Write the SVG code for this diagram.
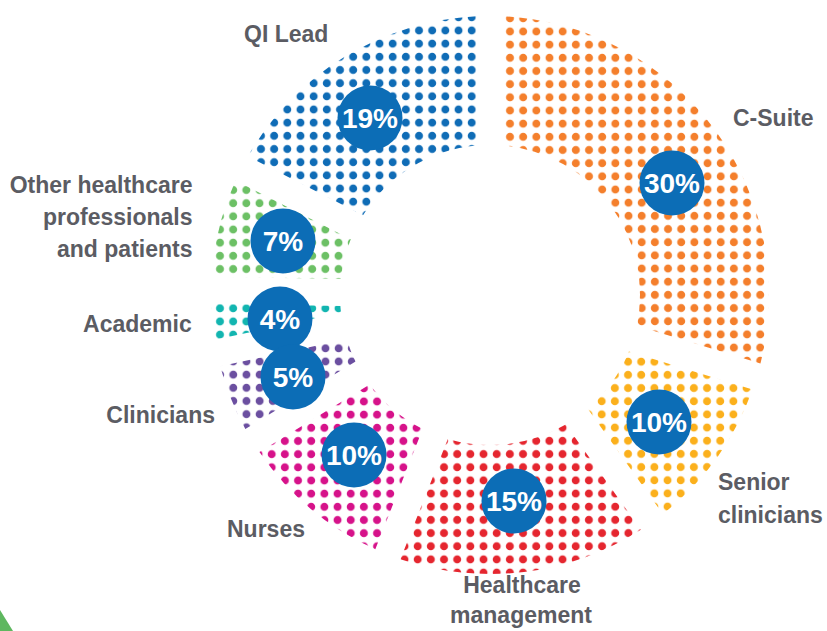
<svg xmlns="http://www.w3.org/2000/svg" width="827" height="631" viewBox="0 0 827 631">
<style>
.lbl{font-family:"Liberation Sans",Arial,sans-serif;font-weight:bold;font-size:23px;fill:#5b5c63}
.pct{font-family:"Liberation Sans",Arial,sans-serif;font-weight:bold;font-size:28px;fill:#ffffff;text-anchor:middle}
.badge{fill:#0c6db6}
</style>
<defs>
<pattern id="p-blue" patternUnits="userSpaceOnUse" x="465.1" y="10.7" width="13.17" height="13.17"><circle cx="6.585" cy="6.585" r="4" fill="#0f6cb6"/></pattern>
<pattern id="p-orange" patternUnits="userSpaceOnUse" x="503.4" y="11.7" width="13.17" height="13.17"><circle cx="6.585" cy="6.585" r="4" fill="#f47f2c"/></pattern>
<pattern id="p-yellow" patternUnits="userSpaceOnUse" x="595.1" y="355.1" width="13.17" height="13.17"><circle cx="6.585" cy="6.585" r="4" fill="#fbb01c"/></pattern>
<pattern id="p-red" patternUnits="userSpaceOnUse" x="490.1" y="421.1" width="13.17" height="13.17"><circle cx="6.585" cy="6.585" r="4" fill="#e5262f"/></pattern>
<pattern id="p-magenta" patternUnits="userSpaceOnUse" x="265.1" y="381.7" width="13.17" height="13.17"><circle cx="6.585" cy="6.585" r="4" fill="#d6128a"/></pattern>
<pattern id="p-purple" patternUnits="userSpaceOnUse" x="226.7" y="341.7" width="13.17" height="13.17"><circle cx="6.585" cy="6.585" r="4" fill="#6b4fa0"/></pattern>
<pattern id="p-teal" patternUnits="userSpaceOnUse" x="213.4" y="301.7" width="13.17" height="13.17"><circle cx="6.585" cy="6.585" r="4" fill="#12b5b0"/></pattern>
<pattern id="p-green" patternUnits="userSpaceOnUse" x="213.4" y="183.4" width="13.17" height="13.17"><circle cx="6.585" cy="6.585" r="4" fill="#6cc065"/></pattern>
</defs>
<rect width="827" height="631" fill="#ffffff"/>
<polygon points="0,610 13,631 0,631" fill="#5eb75f"/>
<g id="connectors"/>
<g id="c-suite">
<path d="M503.5 16.33 A279 279 0 0 1 760.44 363.56 L636.81 325.77 A150 150 0 0 0 503.5 145.61 Z" fill="url(#p-orange)"/>
<circle class="badge" cx="672" cy="183" r="32.5"/>
<text class="pct" x="672" y="193">30%</text>
<text class="lbl" x="733" y="126">C-Suite</text>
</g>
<g id="senior-clinicians">
<path d="M752.54 389.38 A279 279 0 0 1 662.81 514.03 L587.74 408.78 A150 150 0 0 0 628.91 351.59 Z" fill="url(#p-yellow)"/>
<circle class="badge" cx="659" cy="422" r="32.5"/>
<text class="pct" x="659" y="432">10%</text>
<text class="lbl" x="718" y="490">Senior</text>
<text class="lbl" x="718" y="522.7">clinicians</text>
</g>
<g id="healthcare-management">
<path d="M640.83 529.71 A279 279 0 0 1 400.43 559.23 L447.81 438.95 A150 150 0 0 0 565.76 424.46 Z" fill="url(#p-red)"/>
<circle class="badge" cx="514" cy="501" r="32.5"/>
<text class="pct" x="514" y="511">15%</text>
<text class="lbl" x="522" y="593.3" text-anchor="middle">Healthcare</text>
<text class="lbl" x="521" y="623.3" text-anchor="middle">management</text>
</g>
<g id="nurses">
<path d="M375.31 549.33 A279 279 0 0 1 259.45 452.12 L369.67 384.57 A150 150 0 0 0 422.69 429.05 Z" fill="url(#p-magenta)"/>
<circle class="badge" cx="354" cy="455" r="32.5"/>
<text class="pct" x="354" y="465">10%</text>
<text class="lbl" x="227" y="536.7">Nurses</text>
</g>
<g id="other-healthcare-professionals">
<path d="M211.61 276.64 A279 279 0 0 1 235.57 180.52 L350.76 239.21 A150 150 0 0 0 340.87 278.9 Z" fill="url(#p-green)"/>
<circle class="badge" cx="283" cy="241" r="32.5"/>
<text class="pct" x="283" y="251">7%</text>
<text class="lbl" x="192.5" y="193.3" text-anchor="end">Other healthcare</text>
<text class="lbl" x="192.5" y="225" text-anchor="end">professionals</text>
<text class="lbl" x="192.5" y="256.7" text-anchor="end">and patients</text>
</g>
<g id="qi-lead">
<path d="M247.83 156.46 A279 279 0 0 1 476.5 16.33 L476.5 145.61 A150 150 0 0 0 363.02 215.15 Z" fill="url(#p-blue)"/>
<circle class="badge" cx="370" cy="118" r="32.5"/>
<text class="pct" x="370" y="128">19%</text>
<text class="lbl" x="244" y="41.7">QI Lead</text>
</g>
<g id="academic">
<path d="M214.61 339.74 A279 279 0 0 1 211.13 303.64 L340.39 305.89 A150 150 0 0 0 341.06 312.86 Z" fill="url(#p-teal)"/>
<circle class="badge" cx="280" cy="319" r="32.5"/>
<text class="pct" x="280" y="329">4%</text>
<text class="lbl" x="191.7" y="331.7" text-anchor="end">Academic</text>
</g>
<g id="clinicians">
<path d="M245.35 429.1 A279 279 0 0 1 220.23 366.15 L346.68 339.27 A150 150 0 0 0 355.57 361.55 Z" fill="url(#p-purple)"/>
<circle class="badge" cx="293" cy="377" r="32.5"/>
<text class="pct" x="293" y="387">5%</text>
<text class="lbl" x="215" y="423.3" text-anchor="end">Clinicians</text>
</g>
</svg>
